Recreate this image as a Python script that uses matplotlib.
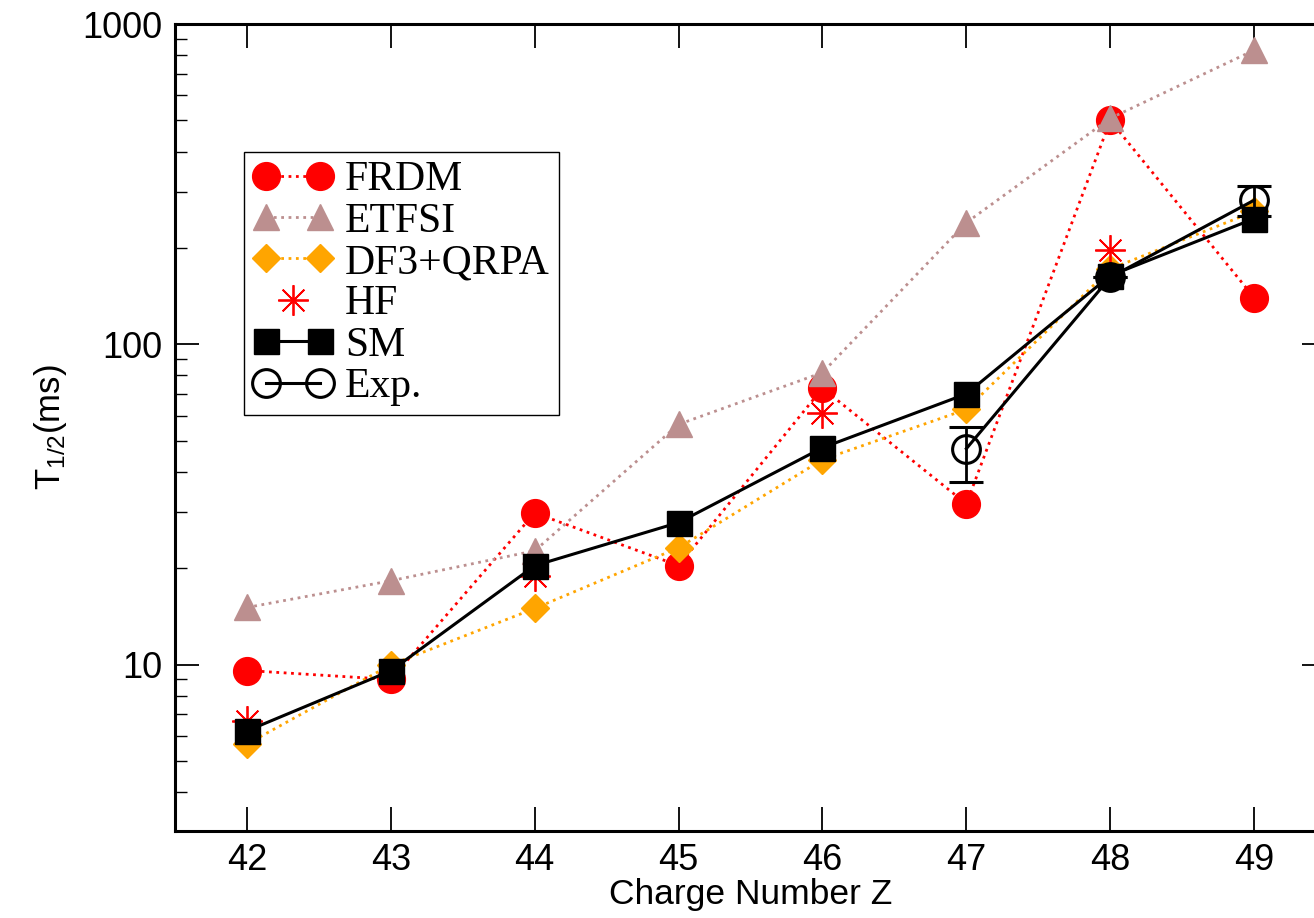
import matplotlib
matplotlib.use("Agg")
import matplotlib.pyplot as plt
from matplotlib.lines import Line2D
from matplotlib.legend_handler import HandlerLine2D
from matplotlib.ticker import LogLocator, NullFormatter, FixedLocator

z = [42, 43, 44, 45, 46, 47, 48, 49]
frdm = [9.6, 9.0, 29.8, 20.4, 73.0, 31.8, 500, 140]
etfsi = [15.1, 18.3, 22.7, 56.3, 81.7, 240, 508, 829]
df3 = [5.66, 10.0, 15.0, 23.2, 43.7, 62.7, 172, 260]
hf_z = [42, 44, 46, 48]
hf = [6.7, 19.0, 60.9, 197]
sm = [6.22, 9.58, 20.4, 27.8, 47.6, 70.1, 164, 247]
exp_z = [47, 48, 49]
exp_v = [47.3, 162, 282]
exp_lo = [10.2, 0, 30]
exp_hi = [8.1, 0, 31]

plt.rcParams["font.family"] = ["Liberation Sans", "DejaVu Sans"]
plt.rcParams["mathtext.fontset"] = "custom"
plt.rcParams["mathtext.rm"] = "Liberation Sans"
plt.rcParams["mathtext.it"] = "Liberation Sans"

fig = plt.figure(figsize=(13.14, 9.18), dpi=100)
ax = fig.add_axes([0.1332, 0.0948, 0.876, 0.879])

l_frdm, = ax.plot(z, frdm, ":", color="red", lw=2, marker="o", ms=20)
l_etfsi, = ax.plot(z, etfsi, ":", color="rosybrown", lw=2, marker="^", ms=19)
l_df3, = ax.plot(z, df3, ":", color="orange", lw=2, marker="D", ms=14)
l_hf, = ax.plot(hf_z, hf, ls="none", color="red", marker=(8, 2, 0), ms=22, mew=1.3)
l_sm, = ax.plot(z, sm, "-", color="black", lw=2.2, marker="s", ms=18)
ax.errorbar(exp_z, exp_v, yerr=[exp_lo, exp_hi], fmt="-o", color="black", lw=2.2,
            ms=20, mfc="none", mew=2.2, capsize=12, capthick=2, elinewidth=2)
l_exp = Line2D([], [], color="black", lw=2.2, marker="o", ms=20, mfc="none", mew=2.2)

ax.set_yscale("log")
ax.set_xlim(41.5, 49.5)
ax.set_ylim(3.03, 1000)
ax.xaxis.set_major_locator(FixedLocator(z))
ax.yaxis.set_minor_locator(LogLocator(base=10, subs=range(2, 10)))
ax.yaxis.set_minor_formatter(NullFormatter())
ax.set_yticks([10, 100, 1000])
ax.set_yticklabels(["10", "100", "1000"])

ax.tick_params(which="both", direction="in", top=True, right=True)
ax.tick_params(which="major", length=17, width=1.3, labelsize=26, pad=9)
ax.tick_params(which="minor", length=8.5, width=1.0)
for s in ax.spines.values():
    s.set_linewidth(2.2)

ax.set_xlabel("Charge Number Z", fontsize=25.5, labelpad=0)
ax.set_ylabel(r"T$_{1/2}$(ms)", fontsize=25, labelpad=10)

leg = ax.legend([l_frdm, l_etfsi, l_df3, l_hf, l_sm, l_exp],
                ["FRDM", "ETFSI", "DF3+QRPA", "HF", "SM", "Exp."],
                handler_map={l_hf: HandlerLine2D(numpoints=1)},
                loc="upper left", bbox_to_anchor=(0.060, 0.842), borderaxespad=0,
                numpoints=2, fancybox=False, framealpha=1, edgecolor="black",
                prop={"family": "Liberation Serif", "size": 30},
                handlelength=1.9, handletextpad=0.3, labelspacing=0.07,
                borderpad=0.22)
leg.get_frame().set_linewidth(1.0)

fig.savefig("out.png", dpi=100)
